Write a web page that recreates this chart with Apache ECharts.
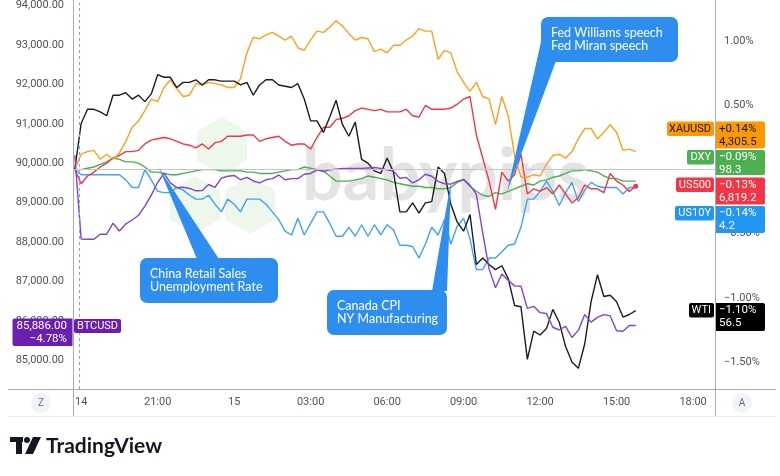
<!DOCTYPE html>
<html>
<head>
<meta charset="utf-8">
<script src="https://cdn.jsdelivr.net/npm/echarts@6/dist/echarts.min.js"></script>
<style>
html, body { margin: 0; padding: 0; background: #fff; }
#chart { width: 780px; height: 476px; }
</style>
</head>
<body>
<div id="chart"></div>
<script>
// 15 minute bars, hours counted from Nov 14 00:00 (17:45 on the 14th -> 15:45 on the 15th)
var startHour = 17.75;
var stepHour = 0.25;

var timeTicks = [18, 21, 24, 27, 30, 33, 36, 39, 42];
var timeTickLabels = ['14', '21:00', '15', '03:00', '06:00', '09:00', '12:00', '15:00', '18:00'];
var pctTicks = [1, 0.5, 0, -0.5, -1, -1.5];
var priceTicks = [85000, 86000, 87000, 88000, 89000, 90000, 91000, 92000, 93000, 94000];

// BTCUSD price (left scale)
var btcusd = [90200, 88080, 88070, 88070, 88200, 88200, 88480, 88280, 88460, 88560,
  88680, 88910, 89190, 89510, 89750, 89500, 89380, 89390, 89360, 89300,
  89310, 89460, 89390, 89620, 89670, 89690, 89580, 89640, 89550, 89500,
  89580, 89610, 89700, 89580, 89610, 89610, 89720, 89740, 89830, 89790,
  89830, 89850, 89870, 89870, 89870, 89870, 89880, 89890, 89870, 89830,
  89800, 89620, 89640, 89500, 89580, 89720, 89670, 89540, 89480, 89470,
  89540, 89590, 89440, 89210, 88230, 87320, 86840, 87190, 87030, 86890,
  86880, 86320, 86370, 86210, 86190, 85840, 85770, 85860, 85580, 85760,
  86160, 85970, 86090, 86160, 86130, 85750, 85740, 85886, 85886];

// compared symbols, % change (right scale)
var xauusd = [0, 0.12, 0.14, 0.15, 0.08, 0.12, 0.08, 0.13, 0.22, 0.33,
  0.38, 0.46, 0.55, 0.53, 0.64, 0.70, 0.63, 0.57, 0.58, 0.67,
  0.66, 0.68, 0.67, 0.66, 0.64, 0.64, 0.71, 0.91, 1.03, 1.02,
  1.05, 1.07, 1.04, 1.01, 1.04, 0.95, 0.93, 1.01, 1.08, 1.07,
  1.11, 1.16, 1.12, 1.06, 1.01, 1.03, 1.02, 0.92, 0.94, 0.91,
  0.97, 0.97, 1.01, 1.04, 1.10, 1.08, 1.08, 0.86, 0.93, 0.91,
  0.76, 0.68, 0.61, 0.68, 0.57, 0.55, 0.35, 0.57, 0.42, 0.11,
  -0.06, -0.06, -0.04, -0.05, 0.04, 0.11, 0.12, 0.09, 0.14, 0.24,
  0.32, 0.32, 0.24, 0.29, 0.35, 0.29, 0.15, 0.16, 0.14];

var dxy = [0, 0.00, 0.01, 0.02, 0.04, 0.06, 0.09, 0.08, 0.06, 0.06,
  0.05, 0.02, -0.02, -0.02, -0.03, -0.04, -0.04, -0.03, -0.02, -0.01,
  0.00, 0.00, 0.00, -0.01, -0.01, -0.01, -0.01, -0.02, -0.02, -0.03,
  -0.03, -0.03, -0.02, -0.01, 0.00, 0.00, 0.02, 0.01, 0.00, -0.01,
  -0.05, -0.09, -0.09, -0.09, -0.08, -0.07, -0.05, -0.06, -0.07, -0.08,
  -0.10, -0.11, -0.12, -0.13, -0.13, -0.14, -0.14, -0.15, -0.15, -0.14,
  -0.10, -0.08, -0.13, -0.17, -0.20, -0.21, -0.18, -0.19, -0.17, -0.15,
  -0.13, -0.11, -0.12, -0.09, -0.08, -0.06, -0.05, -0.03, -0.01, -0.01,
  0.00, -0.01, -0.02, -0.05, -0.07, -0.07, -0.09, -0.09, -0.09];

var us500 = [0, -0.11, -0.05, -0.02, 0.02, 0.05, 0.09, 0.11, 0.14, 0.14,
  0.15, 0.20, 0.23, 0.24, 0.25, 0.24, 0.22, 0.20, 0.19, 0.17,
  0.20, 0.16, 0.21, 0.22, 0.26, 0.26, 0.26, 0.27, 0.27, 0.22,
  0.24, 0.25, 0.26, 0.22, 0.19, 0.20, 0.20, 0.16, 0.25, 0.33,
  0.33, 0.39, 0.40, 0.42, 0.46, 0.48, 0.47, 0.46, 0.47, 0.45,
  0.45, 0.45, 0.47, 0.42, 0.41, 0.50, 0.47, 0.47, 0.47, 0.48,
  0.51, 0.55, 0.57, 0.27, 0.09, -0.09, -0.31, -0.02, -0.09, -0.04,
  0.12, -0.19, -0.15, -0.17, -0.14, -0.19, -0.12, -0.19, -0.26, -0.22,
  -0.12, -0.15, -0.15, -0.18, -0.03, -0.09, -0.12, -0.17, -0.13];

var us10y = [0, -0.04, -0.04, -0.04, -0.04, -0.04, -0.04, -0.04, -0.08, -0.14,
  -0.14, 0.00, -0.08, -0.17, -0.18, -0.18, -0.14, -0.16, -0.20, -0.23,
  -0.23, -0.20, -0.27, -0.33, -0.23, -0.27, -0.33, -0.23, -0.23, -0.23,
  -0.27, -0.33, -0.39, -0.48, -0.51, -0.38, -0.51, -0.42, -0.33, -0.33,
  -0.42, -0.52, -0.52, -0.45, -0.52, -0.43, -0.52, -0.43, -0.51, -0.43,
  -0.47, -0.59, -0.59, -0.60, -0.69, -0.58, -0.45, -0.51, -0.39, -0.58,
  -0.44, -0.38, -0.54, -0.78, -0.78, -0.69, -0.69, -0.64, -0.59, -0.58,
  -0.45, -0.23, -0.23, -0.17, -0.09, -0.17, -0.28, -0.18, -0.10, -0.25,
  -0.16, -0.10, -0.13, -0.14, -0.14, -0.14, -0.19, -0.14, -0.14];

var wti = [0, 0.36, 0.47, 0.47, 0.45, 0.42, 0.58, 0.58, 0.60, 0.55,
  0.58, 0.53, 0.59, 0.74, 0.72, 0.72, 0.64, 0.68, 0.68, 0.70,
  0.66, 0.70, 0.70, 0.69, 0.69, 0.69, 0.66, 0.68, 0.58, 0.66,
  0.70, 0.70, 0.66, 0.65, 0.64, 0.67, 0.55, 0.38, 0.38, 0.29,
  0.41, 0.54, 0.35, 0.26, 0.37, 0.08, 0.05, -0.01, -0.03, 0.09,
  -0.02, -0.33, -0.33, -0.26, -0.34, -0.26, -0.25, 0.02, -0.03, -0.27,
  -0.41, -0.48, -0.35, -0.74, -0.69, -0.74, -0.78, -0.75, -0.85, -1.06,
  -1.07, -1.48, -1.26, -1.29, -1.24, -1.09, -1.19, -1.38, -1.50, -1.55,
  -1.36, -1.03, -0.82, -0.99, -0.98, -1.03, -1.15, -1.13, -1.10];

var sessionMarkHour = 17.92;

var FONT = 'Roboto, "Noto Sans", sans-serif';
var CALLOUT = '#2d8ef0';

function pairs(values) {
  return values.map(function (v, i) { return [startHour + i * stepHour, v]; });
}

function lineSeries(name, values, color, axis) {
  return {
    name: name, type: 'line', yAxisIndex: axis, data: pairs(values),
    showSymbol: false, silent: true, z: 3,
    lineStyle: { color: color, width: 1.4 },
    itemStyle: { color: color }
  };
}

function fmtPrice(v) {
  return v.toLocaleString('en-US', { minimumFractionDigits: 2, maximumFractionDigits: 2 });
}
function fmtPct(v) {
  return (v < 0 ? '\u2212' : '') + Math.abs(v).toFixed(2) + '%';
}

// price tag helpers (TradingView style last value labels)
function box(x, y, w, h, fill, r) {
  return { type: 'rect', z: 20, shape: { x: x, y: y, width: w, height: h, r: r }, style: { fill: fill } };
}
function txt(x, y, s, fill, align, font) {
  return { type: 'text', z: 21, style: { x: x, y: y, text: s, fill: fill, textAlign: align || 'left',
    textVerticalAlign: 'middle', font: font || ('11.5px ' + FONT) } };
}
function rightTag(y, tagW, valH, color, textColor, name, line1, line2) {
  return [
    box(714 - tagW, y, tagW, 14.5, color, 2),
    txt(711, y + 7.5, name, textColor, 'right', '11px ' + FONT),
    box(716, y, 49, valH, color, [0, 2, 2, 0]),
    txt(719, y + 7.5, line1, textColor),
    txt(719, y + 20.5, line2, textColor)
  ];
}
function hexagon(cx, cy, r) {
  var pts = [];
  for (var k = 0; k < 6; k++) {
    var a = Math.PI / 180 * (60 * k - 90);
    pts.push([cx + r * Math.cos(a), cy + r * Math.sin(a)]);
  }
  return { type: 'polygon', z: 1, shape: { points: pts }, style: { fill: 'rgba(110,190,100,0.12)' } };
}
function callout(x, y, w, h, pointer, l1, l2) {
  return [
    { type: 'polygon', z: 30, shape: { points: pointer }, style: { fill: CALLOUT } },
    box(x, y, w, h, CALLOUT, 7),
    txt(x + 10, y + 16, l1, '#fff', 'left', '12.5px Lato, ' + FONT),
    txt(x + 10, y + 29, l2, '#fff', 'left', '12.5px Lato, ' + FONT)
  ].map(function (e) { e.z = 30; return e; });
}

var lastIdx = us500.length - 1;
var red = lineSeries('US500', us500, '#f23645', 0);
red.showSymbol = true;
red.showAllSymbol = true;
red.symbol = 'circle';
red.symbolSize = function (v, p) { return p.dataIndex === lastIdx ? 5 : 0; };

var green = lineSeries('DXY', dxy, '#4caf50', 0);
green.markLine = {
  silent: true, symbol: 'none', label: { show: false },
  data: [
    { yAxis: 0, lineStyle: { color: '#c4c6cc', width: 1, type: 'solid' } },
    { xAxis: sessionMarkHour, lineStyle: { color: '#7aa6ec', width: 1, type: [3, 3] } }
  ]
};

var graphics = [];
// watermark
graphics.push(hexagon(222, 146, 29), hexagon(195, 205, 29), hexagon(250, 205, 29));
graphics.push({ type: 'text', z: 1, style: { x: 302, y: 177, text: 'babypips', fill: 'rgba(185,185,185,0.4)',
  font: 'bold 72px Lato, sans-serif', textVerticalAlign: 'middle' } });
// frame lines
var frameColor = '#a9acb5';
graphics.push(
  { type: 'line', z: 5, shape: { x1: 73.5, y1: 0, x2: 73.5, y2: 416 }, style: { stroke: frameColor, lineWidth: 1 } },
  { type: 'line', z: 5, shape: { x1: 715.5, y1: 0, x2: 715.5, y2: 416 }, style: { stroke: frameColor, lineWidth: 1 } },
  { type: 'line', z: 5, shape: { x1: 8, y1: 389.5, x2: 776, y2: 389.5 }, style: { stroke: frameColor, lineWidth: 1 } },
  { type: 'line', z: 5, shape: { x1: 8, y1: 416.5, x2: 776, y2: 416.5 }, style: { stroke: '#eceef2', lineWidth: 1 } }
);
// Z / A buttons
graphics.push(
  { type: 'circle', z: 5, shape: { cx: 41, cy: 403, r: 10 }, style: { fill: '#f0f3fa' } },
  txt(41, 403, 'Z', '#6a6d78', 'center', '10px ' + FONT),
  { type: 'circle', z: 5, shape: { cx: 742, cy: 403, r: 10 }, style: { fill: '#f0f3fa' } },
  txt(742, 403, 'A', '#6a6d78', 'center', '10px ' + FONT)
);
// callouts
graphics = graphics.concat(
  callout(140, 258, 138, 45, [[197, 259], [219, 259], [159, 168]], 'China Retail Sales', 'Unemployment Rate'),
  callout(327, 290, 120, 45, [[432, 291], [447, 291], [451, 181]], 'Canada CPI', 'NY Manufacturing'),
  callout(541, 17, 137, 45, [[541, 42], [556, 61], [507, 192]], 'Fed Williams speech', 'Fed Miran speech')
);
// last value tags
graphics = graphics.concat(
  rightTag(121.5, 47, 27, '#ff9800', '#131722', 'XAUUSD', '+0.14%', '4,305.5'),
  rightTag(150, 27, 25, '#4caf50', '#fff', 'DXY', '\u22120.09%', '98.3'),
  rightTag(177.5, 38, 27, '#f23645', '#fff', 'US500', '\u22120.13%', '6,819.2'),
  rightTag(206, 39, 27, '#2196f3', '#fff', 'US10Y', '\u22120.14%', '4.2'),
  rightTag(303, 25, 28, '#000000', '#fff', 'WTI', '\u22121.10%', '56.5')
);
graphics.push(
  box(12.5, 318.5, 60, 27.5, '#6a1fb0', [2, 0, 0, 2]),
  txt(67, 326, '85,886.00', '#fff', 'right'),
  txt(67, 339, '\u22124.78%', '#fff', 'right'),
  box(74, 319, 47, 14, '#6a1fb0', 2),
  txt(97.5, 326.5, 'BTCUSD', '#fff', 'center', '11px ' + FONT)
);
// TradingView logo
graphics.push(
  { type: 'rect', z: 5, shape: { x: 10, y: 437, width: 13, height: 5 }, style: { fill: '#131722' } },
  { type: 'rect', z: 5, shape: { x: 16, y: 437, width: 6, height: 17 }, style: { fill: '#131722' } },
  { type: 'circle', z: 5, shape: { cx: 27, cy: 440, r: 3 }, style: { fill: '#131722' } },
  { type: 'polygon', z: 5, shape: { points: [[33, 437], [41, 437], [33, 454], [25, 454]] }, style: { fill: '#131722' } },
  txt(46, 446, 'TradingView', '#131722', 'left', 'bold 21px Lato, ' + FONT)
);

var chart = echarts.init(document.getElementById('chart'));
chart.setOption({
  animation: false,
  backgroundColor: '#ffffff',
  grid: { left: 73, right: 65, top: 0, bottom: 87 },
  xAxis: {
    type: 'value', min: 17.68, max: 42.86,
    axisLine: { show: false }, axisTick: { show: false }, splitLine: { show: false },
    axisLabel: {
      customValues: timeTicks, margin: 8, color: '#50535e', fontSize: 11, fontFamily: FONT,
      formatter: function (v) { var k = timeTicks.indexOf(Math.round(v)); return k >= 0 ? timeTickLabels[k] : ''; }
    }
  },
  yAxis: [
    {
      type: 'value', position: 'right', min: -1.711, max: 1.302,
      axisLine: { show: false }, axisTick: { show: false }, splitLine: { show: false },
      axisLabel: { customValues: pctTicks, margin: 9, color: '#50535e', fontSize: 11, fontFamily: FONT, formatter: fmtPct }
    },
    {
      type: 'value', position: 'left', min: 84274, max: 94073,
      axisLine: { show: false }, axisTick: { show: false }, splitLine: { show: false },
      axisLabel: { customValues: priceTicks, margin: 9, color: '#50535e', fontSize: 11, fontFamily: FONT, formatter: fmtPrice }
    }
  ],
  series: [
    green,
    lineSeries('US10Y', us10y, '#42a0f5', 0),
    red,
    lineSeries('XAUUSD', xauusd, '#ff9f1a', 0),
    lineSeries('WTI', wti, '#1c1c1c', 0),
    lineSeries('BTCUSD', btcusd, '#8443d0', 1)
  ],
  graphic: graphics
});
</script>
</body>
</html>
